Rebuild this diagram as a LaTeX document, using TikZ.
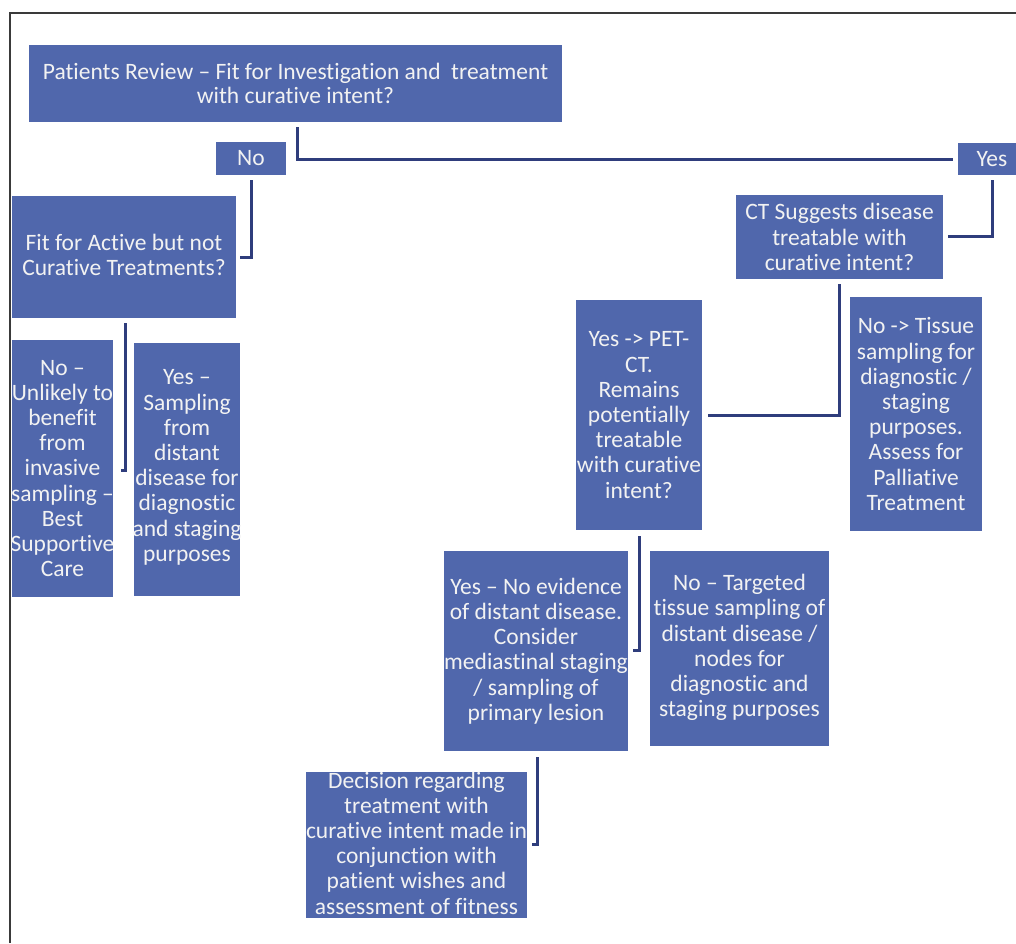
\documentclass[tikz,border=0pt]{standalone}
\usepackage{fontspec}
\setmainfont{Carlito}[Ligatures={NoCommon}]
\definecolor{boxblue}{HTML}{5067AC}
\definecolor{linkblue}{HTML}{2F3D7C}
\definecolor{boxtext}{HTML}{F2F2F2}
\definecolor{framegray}{HTML}{3A3A3A}
\tikzset{
  fbox/.style={draw=none, fill=boxblue, inner sep=0pt},
  ftxt/.style={text=boxtext, align=center, inner sep=0pt,
    font=\fontsize{23.5}{25.2}\selectfont},
  link/.style={draw=linkblue, line width=3pt},
}
\begin{document}
\begin{tikzpicture}[x=1pt,y=-1pt]
\useasboundingbox (0,0) rectangle (1016,943);
\draw[framegray, line width=1.5pt] (10,943) -- (10,13) -- (1017,13);

\node[fbox, minimum width=533pt, minimum height=77pt] (top) at (295.5,83.5) {};
\node[ftxt] (top-t) at (top) {Patients Review – Fit for Investigation and\ \ treatment\\[-1pt]with curative intent?};
\node[fbox, minimum width=70pt, minimum height=33pt] (no) at (251,158.5) {};
\node[ftxt] (no-t) at (no) {No};
\node[fbox, minimum width=68pt, minimum height=32pt] (yes) at (992,159) {};
\node[ftxt] (yes-t) at (yes) {Yes};
\node[fbox, minimum width=224pt, minimum height=122pt] (fit) at (124,257) {};
\node[ftxt] (fit-t) at ([yshift=2pt]fit.center) {Fit for Active but not\\Curative Treatments?};
\node[fbox, minimum width=207pt, minimum height=84pt] (ct) at (839.5,237) {};
\node[ftxt] (ct-t) at (ct) {CT Suggests disease\\treatable with\\curative intent?};
\node[fbox, minimum width=126pt, minimum height=230pt] (pet) at (639,415) {};
\node[ftxt] (pet-t) at (pet) {Yes -> PET-\\CT.\\Remains\\potentially\\treatable\\with curative\\intent?};
\node[fbox, minimum width=132pt, minimum height=234pt] (tis) at (916,414) {};
\node[ftxt] (tis-t) at (tis) {No -> Tissue\\sampling for\\diagnostic /\\staging\\purposes.\\Assess for\\Palliative\\Treatment};
\node[fbox, minimum width=101pt, minimum height=257pt] (unl) at (62.5,468.5) {};
\node[ftxt] (unl-t) at (unl) {No –\\Unlikely to\\benefit\\from\\invasive\\sampling –\\Best\\Supportive\\Care};
\node[fbox, minimum width=106pt, minimum height=253pt] (samp) at (187,469.5) {};
\node[ftxt] (samp-t) at ([yshift=2pt]samp.center) {Yes –\\Sampling\\from\\distant\\disease for\\diagnostic\\and staging\\purposes};
\node[fbox, minimum width=184pt, minimum height=200pt] (ynoe) at (536,651) {};
\node[ftxt] (ynoe-t) at (ynoe) {Yes – No evidence\\of distant disease.\\Consider\\mediastinal staging\\/ sampling of\\primary lesion};
\node[fbox, minimum width=179pt, minimum height=195pt] (targ) at (739.5,648.5) {};
\node[ftxt] (targ-t) at ([yshift=1pt]targ.center) {No – Targeted\\tissue sampling of\\distant disease /\\nodes for\\diagnostic and\\staging purposes};
\node[fbox, minimum width=221pt, minimum height=146pt] (dec) at (416.5,845) {};
\node[ftxt] (dec-t) at ([yshift=2pt]dec.center) {Decision regarding\\treatment with\\curative intent made in\\conjunction with\\patient wishes and\\assessment of fitness};

\draw[link] ([xshift=1.5pt,yshift=-5pt]top.south) |- ([xshift=-5pt]yes.west);
\draw[link] ([yshift=-5pt]no.south) |- ([xshift=4pt]fit.east);
\draw[link] ([xshift=1pt,yshift=-5pt]fit.south) |- ([xshift=8pt,yshift=-2pt]unl.east);
\draw[link] ([yshift=-5pt]yes.south) |- ([xshift=5pt,yshift=1pt]ct.east);
\draw[link] ([yshift=-5pt]ct.south) |- ([xshift=6pt]pet.east);
\draw[link] ([yshift=-6pt]pet.south) |- ([xshift=5pt,yshift=1pt]ynoe.east);
\draw[link] ([xshift=1pt,yshift=-6pt]ynoe.south) |- ([xshift=5pt,yshift=1pt]dec.east);
\end{tikzpicture}
\end{document}
